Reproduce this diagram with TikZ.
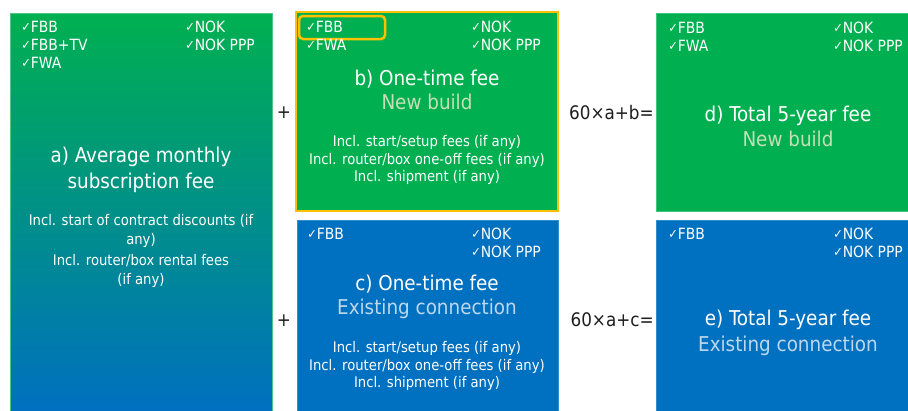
\documentclass[tikz,border=0pt]{standalone}
\usepackage{fontspec}
\setmainfont{DejaVu Sans Condensed}
\usetikzlibrary{positioning}

\definecolor{fibgreen}{RGB}{0,176,80}
\definecolor{fibblue}{RGB}{0,112,192}
\definecolor{hiorange}{RGB}{255,192,0}
\definecolor{palegreen}{RGB}{197,224,180}
\definecolor{paleblue}{RGB}{189,215,238}
\definecolor{opgray}{RGB}{30,30,30}

\def\px{0.75pt}
\newcommand{\tick}{{\fontsize{9.5}{9.5}\selectfont\raisebox{0.2ex}{✓}}}

\begin{document}
\begin{tikzpicture}[x=0.75pt, y=-0.75pt,
  panel/.style={anchor=north west, inner sep=0pt, outer sep=0pt, line width=0.5pt},
  ticks/.style={anchor=north west, inner sep=0pt, align=left, text=white,
    font=\fontsize{11.6}{13.5}\selectfont},
  heading/.style={inner sep=0pt, align=center, text=white,
    font=\fontsize{15.3}{19}\selectfont},
  notes/.style={inner sep=0pt, align=center, text=white,
    font=\fontsize{11}{13.2}\selectfont},
  oper/.style={inner sep=0pt, text=opgray, font=\fontsize{14}{14}\selectfont}]

\useasboundingbox (0,0) rectangle (908,411);

% Panels
\node[panel, draw=fibgreen!70!white, top color=fibgreen, bottom color=fibblue,
  minimum width=262*\px, minimum height=398*\px] (subA) at (10,13) {};
\node[panel, fill=fibgreen, draw=hiorange, line width=2.5*\px,
  minimum width=262*\px, minimum height=199*\px] (feeB) at (296,12) {};
\node[panel, fill=fibblue, draw=fibblue!80!white,
  minimum width=261*\px, minimum height=191*\px] (feeC) at (297,220) {};
\node[panel, fill=fibgreen, draw=fibgreen!75!white,
  minimum width=252*\px, minimum height=198*\px] (totD) at (656,13) {};
\node[panel, fill=fibblue, draw=fibblue!80!white,
  minimum width=252*\px, minimum height=191*\px] (totE) at (656,220) {};

% Highlight round FBB in b)
\node[panel, draw=hiorange, line width=2.5*\px, rounded corners=3pt,
  minimum width=86*\px, minimum height=23*\px] (markB) at (299,16) {};

% a) Average monthly subscription fee
\node[ticks] (tickAl) at (21,21) {\tick FBB\\ \tick FBB+TV\\ \tick FWA};
\node[ticks] (tickAr) at (185,21) {\tick NOK\\ \tick NOK PPP};
\node[heading, font=\fontsize{15.3}{19.5}\selectfont] (headA) at (141,170)
  {a) Average monthly\\ subscription fee};
\node[notes, font=\fontsize{11}{14.2}\selectfont] (noteA) at (141,251)
  {Incl. start of contract discounts (if\\ any)\\[2pt]
   Incl. router/box rental fees\\ (if any)};

% b) One-time fee, new build
\node[ticks] (tickBl) at (306,21) {\tick FBB\\ \tick FWA};
\node[ticks] (tickBr) at (471,21) {\tick NOK\\ \tick NOK PPP};
\node[heading, font=\fontsize{15.3}{18}\selectfont] (headB) at (427,90)
  {b) One-time fee\\ \textcolor{palegreen}{New build}};
\node[notes] (noteB) at (427,160)
  {Incl. start/setup fees (if any)\\ Incl. router/box one-off fees (if any)\\
   Incl. shipment (if any)};

% c) One-time fee, existing connection
\node[ticks] (tickCl) at (307,228) {\tick FBB};
\node[ticks] (tickCr) at (471,228) {\tick NOK\\ \tick NOK PPP};
\node[heading, font=\fontsize{15.3}{18}\selectfont] (headC) at (427,297)
  {c) One-time fee\\ \textcolor{paleblue}{Existing connection}};
\node[notes] (noteC) at (427,366)
  {Incl. start/setup fees (if any)\\ Incl. router/box one-off fees (if any)\\
   Incl. shipment (if any)};

% d) and e) Total 5-year fee
\node[ticks] (tickDl) at (668,22) {\tick FBB\\ \tick FWA};
\node[ticks] (tickDr) at (833,22) {\tick NOK\\ \tick NOK PPP};
\node[heading, font=\fontsize{15.3}{18.8}\selectfont] (headD) at (788,126)
  {d) Total 5-year fee\\ \textcolor{palegreen}{New build}};
\node[ticks] (tickEl) at (668,228) {\tick FBB};
\node[ticks] (tickEr) at (833,228) {\tick NOK\\ \tick NOK PPP};
\node[heading, font=\fontsize{15.3}{19.5}\selectfont] (headE) at (788,333)
  {e) Total 5-year fee\\ \textcolor{paleblue}{Existing connection}};

% Operators
\node[oper] (plusB) at (284,113) {+};
\node[oper] (plusC) at (284,321) {+};
\node[oper, anchor=east] (sumD) at (654,113) {60×a+b=};
\node[oper, anchor=east] (sumE) at (654,320) {60×a+c=};

\end{tikzpicture}
\end{document}
